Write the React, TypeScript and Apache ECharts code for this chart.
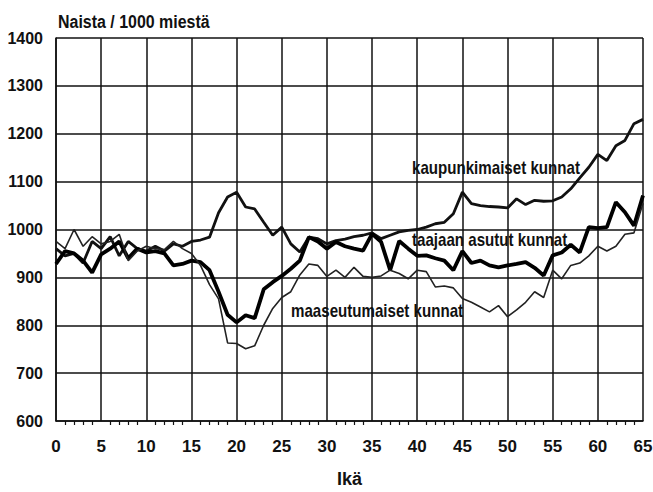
import React, { useEffect, useRef } from "react";
import * as echarts from "echarts";

const ages: number[] = Array.from({ length: 66 }, (_, i) => i);

const kaupunkimaiset: number[] = [
  960, 945, 950, 930, 975, 960, 985, 945, 975, 960,
  955, 965, 955, 970, 965, 975, 978, 984, 1035, 1068,
  1078, 1047, 1043, 1015, 988, 1005, 970, 953, 984, 981,
  970, 977, 980, 985, 988, 993, 981, 988, 995, 998,
  1000, 1005, 1012, 1015, 1033, 1078, 1054, 1050, 1048, 1047,
  1045, 1064, 1052, 1061, 1059, 1060, 1068, 1085, 1108, 1130,
  1157, 1144, 1175, 1186, 1221, 1230,
];

const taajaan: number[] = [
  928, 955, 950, 935, 910, 948, 960, 975, 940, 960,
  952, 955, 950, 925, 928, 935, 932, 915, 870, 822,
  806, 821, 815, 875, 890, 903, 918, 935, 984, 975,
  960, 974, 965, 960, 956, 991, 974, 915, 976, 960,
  945, 946, 940, 935, 915, 955, 930, 935, 925, 921,
  925, 928, 932, 920, 904, 946, 952, 968, 952, 1005,
  1003, 1005, 1057, 1036, 1008, 1071,
];

const maaseutumaiset: number[] = [
  975, 960, 1000, 965, 985, 970, 975, 990, 935, 955,
  965, 960, 958, 975, 960, 950, 925, 885, 855, 763,
  762, 751, 757, 800, 835, 858, 870, 905, 928, 925,
  902, 915, 900, 921, 902, 900, 903, 915, 908, 897,
  915, 912, 880, 882, 878, 856, 848, 838, 828, 841,
  818, 832, 848, 870, 858, 915, 897, 925, 930, 945,
  965, 955, 965, 990, 993, 1055,
];

const FONT = "'Liberation Sans', Arial, sans-serif";

const pairs = (vals: number[]) => ages.map((a, i) => [a, vals[i]]);

const labelText = (text: string, x: number, y: number, size: number) => ({
  type: "text",
  x,
  y,
  scaleX: 0.84,
  style: {
    text,
    fontFamily: FONT,
    fontWeight: "bold",
    fontSize: size,
    fill: "#111",
    textVerticalAlign: "middle",
  },
});

export default function App() {
  const ref = useRef<HTMLDivElement>(null);
  useEffect(() => {
    document.body.style.margin = "0";
    if (!ref.current) return;
    const chart = echarts.init(ref.current, undefined, { renderer: "svg" });
    chart.setOption({
      animation: false,
      backgroundColor: "#ffffff",
      grid: { left: 56, right: 10, top: 38, bottom: 71, outerBoundsMode: "none", containLabel: false },
      xAxis: {
        type: "value",
        min: 0,
        max: 65,
        interval: 5,
        name: "Ikä",
        nameLocation: "middle",
        nameGap: 48,
        nameTextStyle: { fontFamily: FONT, fontWeight: "bold", fontSize: 18, color: "#111", lineHeight: 20 },
        axisLine: { show: true, lineStyle: { color: "#111", width: 1.5 } },
        axisTick: { show: false },
        minorTick: { show: true, splitNumber: 5, length: 4, lineStyle: { color: "#111", width: 1.2 } },
        axisLabel: { margin: 17, fontFamily: FONT, fontWeight: "bold", fontSize: 17, color: "#111" },
        splitLine: { show: true, lineStyle: { color: "#111", width: 1.5 } },
      },
      yAxis: {
        type: "value",
        min: 600,
        max: 1400,
        interval: 100,
        axisLine: { show: true, lineStyle: { color: "#111", width: 1.5 } },
        axisTick: { show: false },
        axisLabel: {
          margin: 13,
          fontFamily: FONT,
          fontWeight: "bold",
          fontSize: 16,
          color: "#111",
          formatter: (v: number) => String(v),
        },
        splitLine: { show: true, lineStyle: { color: "#111", width: 1.5 } },
      },
      series: [
        {
          name: "kaupunkimaiset kunnat",
          type: "line",
          data: pairs(kaupunkimaiset),
          showSymbol: false,
          lineStyle: { color: "#111", width: 2.8 },
        },
        {
          name: "taajaan asutut kunnat",
          type: "line",
          data: pairs(taajaan),
          showSymbol: false,
          lineStyle: { color: "#000", width: 3.8 },
        },
        {
          name: "maaseutumaiset kunnat",
          type: "line",
          data: pairs(maaseutumaiset),
          showSymbol: false,
          lineStyle: { color: "#222", width: 1.6 },
        },
      ],
      graphic: [
        labelText("Naista / 1000 miestä", 58, 22, 19),
        labelText("kaupunkimaiset kunnat", 412, 168, 18),
        labelText("taajaan asutut kunnat", 412, 240, 18),
        labelText("maaseutumaiset kunnat", 291, 311, 18),
      ],
    });
    return () => chart.dispose();
  }, []);
  return <div ref={ref} style={{ width: 653, height: 492 }} />;
}
